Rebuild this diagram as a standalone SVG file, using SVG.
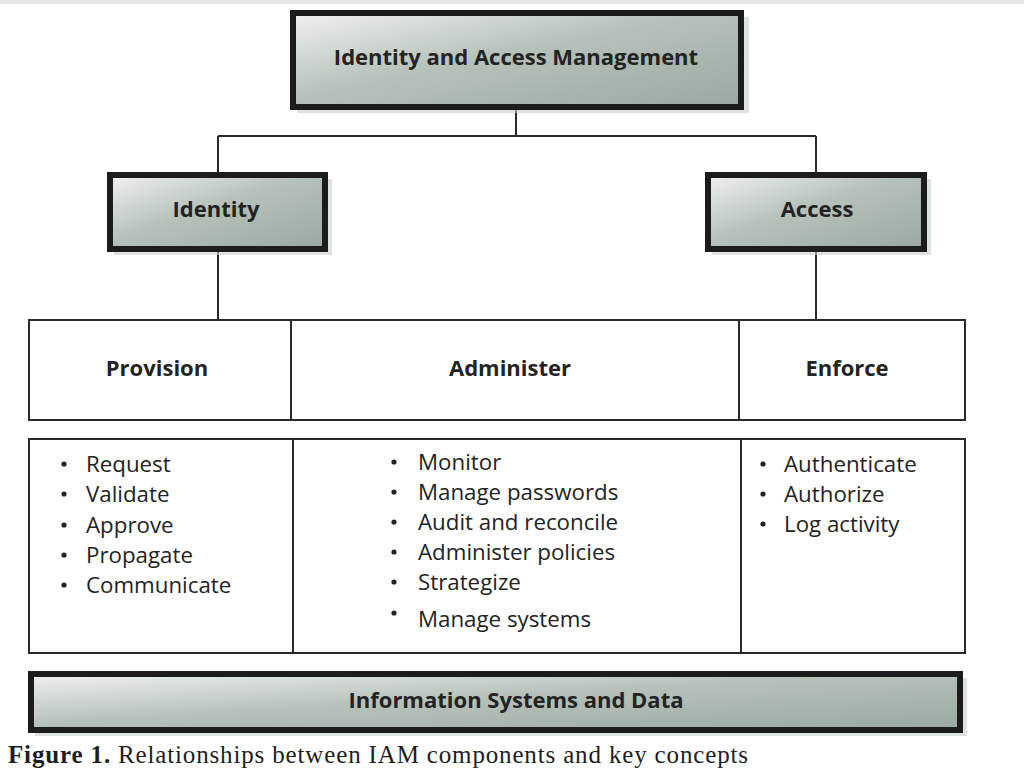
<svg xmlns="http://www.w3.org/2000/svg" width="1024" height="768" viewBox="0 0 1024 768">
  <defs>
    <linearGradient id="boxfill" x1="0" y1="0" x2="1" y2="1">
      <stop offset="0" stop-color="#f0f2f0"/>
      <stop offset="0.45" stop-color="#b6c1ba"/>
      <stop offset="1" stop-color="#9aa9a0"/>
    </linearGradient>
    <style>
      .box { fill: url(#boxfill); stroke: #1c1c1c; stroke-width: 6; }
      .shadow { fill: #c9d1cc; opacity: 0.6; }
      .cell { fill: #ffffff; stroke: #2a2a2a; stroke-width: 2; }
      .conn { stroke: #2a2a2a; stroke-width: 2; fill: none; }
      .title { font-family: "Open Sans", "Noto Sans", "Liberation Sans", sans-serif; font-weight: bold; font-size: 22px; fill: #232323; text-anchor: middle; }
      .head { font-family: "Open Sans", "Noto Sans", "Liberation Sans", sans-serif; font-weight: bold; font-size: 22px; fill: #232323; text-anchor: middle; }
      .item { font-family: "Open Sans", "Noto Sans", "Liberation Sans", sans-serif; font-size: 22.3px; fill: #232323; }
      .bullet { fill: #232323; }
      .cap { font-family: "Liberation Serif", "DejaVu Serif", serif; font-size: 25px; fill: #1e1e1e; }
    </style>
  </defs>

  <rect x="0" y="0" width="1024" height="768" fill="#ffffff"/>
  <rect x="0" y="0" width="1024" height="4" fill="#e4e6e5"/>

  <g id="connectors">
    <line class="conn" x1="516" y1="110" x2="516" y2="136"/>
    <line class="conn" x1="218" y1="136" x2="816" y2="136"/>
    <line class="conn" x1="218" y1="136" x2="218" y2="172"/>
    <line class="conn" x1="816" y1="136" x2="816" y2="172"/>
    <line class="conn" x1="218" y1="252" x2="218" y2="319"/>
    <line class="conn" x1="816" y1="252" x2="816" y2="319"/>
  </g>

  <g id="iam">
    <rect class="shadow" x="297" y="17" width="452" height="96"/>
    <rect class="box" x="293" y="13" width="448" height="94"/>
    <text class="title" x="516" y="65">Identity and Access Management</text>
  </g>

  <g id="identity">
    <rect class="shadow" x="114" y="179" width="218" height="76"/>
    <rect class="box" x="110" y="175" width="215" height="74"/>
    <text class="title" x="216" y="217">Identity</text>
  </g>

  <g id="access">
    <rect class="shadow" x="712" y="179" width="219" height="76"/>
    <rect class="box" x="708" y="175" width="216" height="74"/>
    <text class="title" x="817" y="217">Access</text>
  </g>

  <g id="provision">
    <rect class="cell" x="29" y="320" width="262" height="100"/>
    <text class="head" x="157" y="376">Provision</text>
  </g>
  <g id="administer">
    <rect class="cell" x="291" y="320" width="448" height="100"/>
    <text class="head" x="510" y="376">Administer</text>
  </g>
  <g id="enforce">
    <rect class="cell" x="739" y="320" width="226" height="100"/>
    <text class="head" x="847" y="376">Enforce</text>
  </g>

  <g id="provision-list">
    <rect class="cell" x="29" y="439" width="264" height="214"/>
    <circle class="bullet" cx="64" cy="464" r="2.6"/>
    <circle class="bullet" cx="64" cy="494" r="2.6"/>
    <circle class="bullet" cx="64" cy="525" r="2.6"/>
    <circle class="bullet" cx="64" cy="555" r="2.6"/>
    <circle class="bullet" cx="64" cy="585" r="2.6"/>
    <text class="item" x="86" y="472">Request</text>
    <text class="item" x="86" y="502">Validate</text>
    <text class="item" x="86" y="533">Approve</text>
    <text class="item" x="86" y="563">Propagate</text>
    <text class="item" x="86" y="593">Communicate</text>
  </g>

  <g id="administer-list">
    <rect class="cell" x="293" y="439" width="448" height="214"/>
    <circle class="bullet" cx="394" cy="462" r="2.6"/>
    <circle class="bullet" cx="394" cy="492" r="2.6"/>
    <circle class="bullet" cx="394" cy="522" r="2.6"/>
    <circle class="bullet" cx="394" cy="552" r="2.6"/>
    <circle class="bullet" cx="394" cy="582" r="2.6"/>
    <circle class="bullet" cx="394" cy="613" r="2.6"/>
    <text class="item" x="418" y="470">Monitor</text>
    <text class="item" x="418" y="500">Manage passwords</text>
    <text class="item" x="418" y="530">Audit and reconcile</text>
    <text class="item" x="418" y="560">Administer policies</text>
    <text class="item" x="418" y="590">Strategize</text>
    <text class="item" x="418" y="627">Manage systems</text>
  </g>

  <g id="enforce-list">
    <rect class="cell" x="741" y="439" width="224" height="214"/>
    <circle class="bullet" cx="763" cy="464" r="2.6"/>
    <circle class="bullet" cx="763" cy="494" r="2.6"/>
    <circle class="bullet" cx="763" cy="524" r="2.6"/>
    <text class="item" x="784" y="472">Authenticate</text>
    <text class="item" x="784" y="502">Authorize</text>
    <text class="item" x="784" y="532">Log activity</text>
  </g>

  <g id="info-systems">
    <rect class="shadow" x="35" y="678" width="932" height="58"/>
    <rect class="box" x="31" y="674" width="929" height="56"/>
    <text class="title" x="516" y="708">Information Systems and Data</text>
  </g>

  <text class="cap" x="8" y="763" textLength="740" lengthAdjust="spacing"><tspan font-weight="bold">Figure 1.</tspan>  Relationships between IAM components and key concepts</text>
</svg>
